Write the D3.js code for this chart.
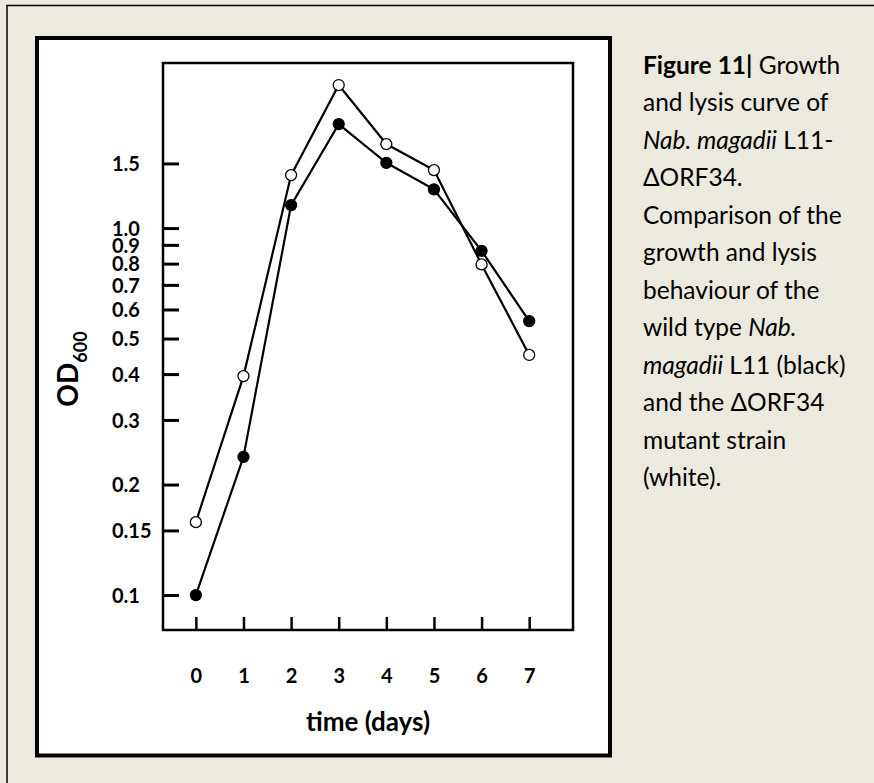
<!DOCTYPE html>
<html>
<head>
<meta charset="utf-8">
<script src="https://cdn.jsdelivr.net/npm/d3@7"></script>
<style>
  body { margin: 0; background: #ece9df; }
  #chart { width: 874px; height: 783px; }
</style>
</head>
<body>
<div id="chart"></div>
<script>
// growth / lysis data (OD600, log scale)
const days = [0, 1, 2, 3, 4, 5, 6, 7];
const wildType = [0.1, 0.238, 1.155, 1.92, 1.506, 1.275, 0.867, 0.558];
const mutant = [0.158, 0.395, 1.394, 2.453, 1.694, 1.439, 0.796, 0.451];
const yTicks = [0.1, 0.15, 0.2, 0.3, 0.4, 0.5, 0.6, 0.7, 0.8, 0.9, 1.0, 1.5];
const yTickLabels = ["0.1", "0.15", "0.2", "0.3", "0.4", "0.5", "0.6", "0.7", "0.8", "0.9", "1.0", "1.5"];
const captionLines = [
  [["Figure 11|", "b"], [" Growth", ""]],
  [["and lysis curve of", ""]],
  [["Nab. magadii", "i"], [" L11-", ""]],
  [["\u0394ORF34.", ""]],
  [["Comparison of the", ""]],
  [["growth and lysis", ""]],
  [["behaviour of the", ""]],
  [["wild type ", ""], ["Nab.", "i"]],
  [["magadii", "i"], [" L11 (black)", ""]],
  [["and the \u0394ORF34", ""]],
  [["mutant strain", ""]],
  [["(white).", ""]]
];

const font = "Lato, 'Open Sans', sans-serif";
const plot = { left: 163, top: 63, right: 573, bottom: 630 };

const svg = d3.select("#chart")
  .append("svg")
  .attr("width", 874)
  .attr("height", 783);

// page frame + white figure box
svg.append("rect")
  .attr("x", 7).attr("y", 5.5)
  .attr("width", 900).attr("height", 820)
  .attr("fill", "#ece9df")
  .attr("stroke", "#000")
  .attr("stroke-width", 1.5);

svg.append("rect")
  .attr("x", 37).attr("y", 38)
  .attr("width", 573).attr("height", 717.5)
  .attr("fill", "#fff")
  .attr("stroke", "#000")
  .attr("stroke-width", 4);

const xScale = d3.scaleLinear()
  .domain([-0.69, 7.92])
  .range([plot.left, plot.right]);

const yScale = d3.scaleLog()
  .domain([0.0803, 2.817])
  .range([plot.bottom, plot.top]);

// axes: inward ticks, labels moved to match the figure
const yAxisGroup = svg.append("g")
  .attr("transform", `translate(${plot.left}, 0)`)
  .call(d3.axisLeft(yScale)
    .tickValues(yTicks)
    .tickFormat((d, i) => yTickLabels[i])
    .tickSize(-16));

yAxisGroup.select(".domain").remove();
yAxisGroup.selectAll("line").attr("stroke-width", 3);
yAxisGroup.selectAll("text")
  .attr("x", 112 - plot.left)
  .attr("dy", "0.36em")
  .style("text-anchor", "start")
  .style("font-family", font)
  .style("font-size", "20px")
  .style("font-weight", "bold")
  .attr("fill", "#000");

const xAxisGroup = svg.append("g")
  .attr("transform", `translate(0, ${plot.bottom})`)
  .call(d3.axisBottom(xScale)
    .tickValues(days)
    .tickFormat(d3.format("d"))
    .tickSize(-13));

xAxisGroup.select(".domain").remove();
xAxisGroup.selectAll("line").attr("stroke-width", 2.5);
xAxisGroup.selectAll("text")
  .attr("y", 53)
  .attr("dy", 0)
  .style("font-family", font)
  .style("font-size", "20px")
  .style("font-weight", "bold")
  .attr("fill", "#000");

svg.append("rect")
  .attr("x", plot.left).attr("y", plot.top)
  .attr("width", plot.right - plot.left)
  .attr("height", plot.bottom - plot.top)
  .attr("fill", "none")
  .attr("stroke", "#000")
  .attr("stroke-width", 2.5);

// axis titles
svg.append("text")
  .attr("transform", "translate(78, 369) rotate(-90)")
  .attr("text-anchor", "middle")
  .style("font-family", font)
  .style("font-weight", "bold")
  .style("font-size", "28px")
  .call(t => {
    t.append("tspan").text("OD");
    t.append("tspan").attr("dy", 9).style("font-size", "18px").text("600");
  });

svg.append("text")
  .attr("x", 368)
  .attr("y", 731)
  .attr("text-anchor", "middle")
  .style("font-family", font)
  .style("font-weight", "bold")
  .style("font-size", "26px")
  .text("time (days)");

// series
const line = d3.line()
  .x((d, i) => xScale(days[i]))
  .y(d => yScale(d));

function drawSeries(values, fill) {
  svg.append("path")
    .datum(values)
    .attr("fill", "none")
    .attr("stroke", "#000")
    .attr("stroke-width", 2.2)
    .attr("d", line);

  svg.append("g")
    .selectAll("circle")
    .data(values)
    .enter()
    .append("circle")
    .attr("cx", (d, i) => xScale(days[i]))
    .attr("cy", d => yScale(d))
    .attr("r", 5.5)
    .attr("fill", fill)
    .attr("stroke", "#000")
    .attr("stroke-width", 1.3);
}

drawSeries(mutant, "#fff");
drawSeries(wildType, "#000");

// caption
const caption = svg.append("text")
  .style("font-family", font)
  .style("font-size", "24.5px")
  .attr("fill", "#000");

captionLines.forEach((parts, i) => {
  parts.forEach((p, j) => {
    const span = caption.append("tspan")
      .attr("xml:space", "preserve")
      .style("white-space", "pre")
      .text(p[0]);
    if (j === 0) span.attr("x", 643).attr("y", 73.5 + i * 37.5);
    if (p[1] === "b") span.style("font-weight", "bold");
    if (p[1] === "i") span.style("font-style", "italic");
  });
});
</script>
</body>
</html>
